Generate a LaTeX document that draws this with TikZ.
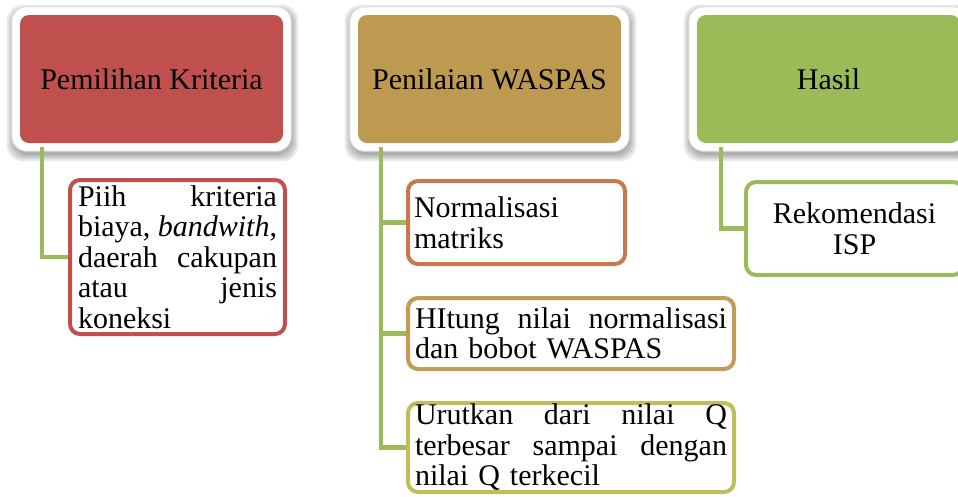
\documentclass[tikz,border=0pt]{standalone}
\usepackage{fontspec}
\setmainfont{Liberation Serif}
\usetikzlibrary{backgrounds}
\definecolor{cRed}{HTML}{C0504D}
\definecolor{cGold}{HTML}{BE9A51}
\definecolor{cGreen}{HTML}{9BBB59}
\definecolor{cOrange}{HTML}{C4794F}
\definecolor{cTan}{HTML}{C29C55}
\definecolor{cOlive}{HTML}{BDBF5A}
\newcommand{\jline}[2]{\leavevmode\hbox to #1{#2}}
\begin{document}
\begin{tikzpicture}[x=1pt,y=-1pt,
  every node/.style={font=\fontsize{30}{30.5}\selectfont},
  hdr/.style={minimum width=263pt, minimum height=128pt, rounded corners=9pt, inner sep=0pt},
  subbox/.style={draw, line width=4pt, rounded corners=10pt, fill=white, inner sep=0pt},
  conn/.style={draw=cGreen, line width=4.5pt},
]
\clip (0,0) rectangle (958,496);

% headers
\node[hdr, fill=cRed]   (h1) at (151.5,79) {Pemilihan Kriteria};
\node[hdr, fill=cGold]  (h2) at (489.5,79) {Penilaian WASPAS};
\node[hdr, fill=cGreen] (h3) at (828.5,79) {Hasil};

% children
\node[subbox, draw=cRed, minimum width=215pt, minimum height=154pt, text width=199pt, align=left] (c1) at (177.5,257)
  {\jline{199pt}{Piih\hfill kriteria}\\
   \jline{199pt}{biaya,\hfill \textit{bandwith},}\\
   \jline{199pt}{daerah\hfill cakupan}\\
   \jline{199pt}{atau\hfill jenis}\\
   koneksi};

\node[subbox, draw=cOrange, minimum width=217pt, minimum height=83pt, text width=205pt, align=left] (m1) at (516.5,222.5)
  {Normalisasi\\matriks};
\node[subbox, draw=cTan, minimum width=326pt, minimum height=71pt, text width=312pt, align=left] (m2) at (571,333.5)
  {\jline{312pt}{HItung\hfill nilai\hfill normalisasi}\\dan bobot WASPAS};
\node[subbox, draw=cOlive, minimum width=326pt, minimum height=89pt, text width=312pt, align=left] (m3) at (571,447.5)
  {\jline{312pt}{Urutkan\hfill dari\hfill nilai\hfill Q}\\
   \jline{312pt}{terbesar\hfill sampai\hfill dengan}\\
   nilai Q terkecil};

\node[subbox, draw=cGreen, minimum width=217pt, minimum height=93pt, align=center] (r1) at (854.5,228.5)
  {Rekomendasi\\ISP};

\begin{scope}[on background layer]
  \foreach \h in {h1,h2,h3}{
    \foreach \e in {0,2,4,6}{
      \fill[black, opacity=0.09, rounded corners=16pt]
        ([shift={(-8-\e+1,-8-\e+4)}]\h.north west) rectangle ([shift={(8+\e+1,8+\e+4)}]\h.south east);
    }
    \fill[white, draw=black!12, line width=1pt, rounded corners=15pt]
      ([shift={(-8,-8)}]\h.north west) rectangle ([shift={(8,8)}]\h.south east);
  }
  \draw[conn] ([xshift=22pt,yshift=-4pt]h1.south west) |- (c1.west);
  \draw[conn] ([xshift=23pt,yshift=-4pt]h2.south west) |- (m1.west);
  \draw[conn] ([xshift=23pt,yshift=-4pt]h2.south west) |- (m2.west);
  \draw[conn] ([xshift=23pt,yshift=-4pt]h2.south west) |- (m3.west);
  \draw[conn] ([xshift=24pt,yshift=-4pt]h3.south west) |- (r1.west);
\end{scope}
\end{tikzpicture}
\end{document}
